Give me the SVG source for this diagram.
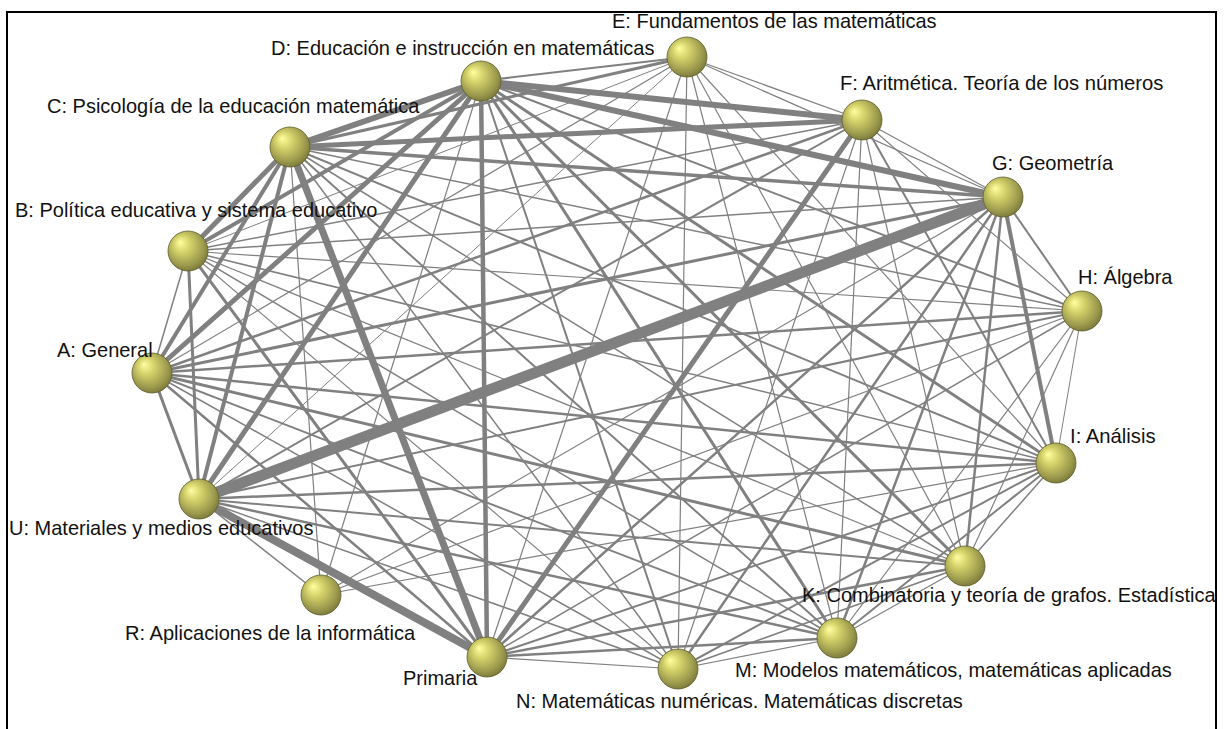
<svg xmlns="http://www.w3.org/2000/svg" width="1228" height="729" viewBox="0 0 1228 729">
<defs>
<radialGradient id="ball" cx="0.45" cy="0.42" r="0.6" fx="0.3" fy="0.28">
<stop offset="0" stop-color="#ffffa0"/>
<stop offset="0.35" stop-color="#d4d26a"/>
<stop offset="0.8" stop-color="#9a984c"/>
<stop offset="1" stop-color="#7a783a"/>
</radialGradient>
</defs>
<style>
.e line{stroke:#808080;fill:none}
.n circle{fill:url(#ball);stroke:#5f5e2c;stroke-width:0.8}
text{font-family:"Liberation Sans",Arial,sans-serif;font-size:21px;fill:#111}
text.s{font-size:20px}
</style>
<rect width="1228" height="729" fill="#fff"/>
<path d="M7,729 V12 H1216 V729" fill="none" stroke="#000" stroke-width="2"/>
<g id="connectors" class="e">
<line x1="152" y1="373" x2="188" y2="251" stroke-width="1.5"/>
<line x1="152" y1="373" x2="290" y2="147" stroke-width="4"/>
<line x1="152" y1="373" x2="481" y2="81" stroke-width="5"/>
<line x1="152" y1="373" x2="687" y2="57" stroke-width="1.2"/>
<line x1="152" y1="373" x2="862" y2="120" stroke-width="2.5"/>
<line x1="152" y1="373" x2="1003" y2="197" stroke-width="3"/>
<line x1="152" y1="373" x2="1082" y2="311" stroke-width="2.5"/>
<line x1="152" y1="373" x2="1056" y2="463" stroke-width="2.5"/>
<line x1="152" y1="373" x2="965" y2="566" stroke-width="3"/>
<line x1="152" y1="373" x2="837" y2="638" stroke-width="2"/>
<line x1="152" y1="373" x2="678" y2="669" stroke-width="1.5"/>
<line x1="152" y1="373" x2="199" y2="499" stroke-width="3"/>
<line x1="152" y1="373" x2="487" y2="657" stroke-width="2.5"/>
<line x1="188" y1="251" x2="290" y2="147" stroke-width="5"/>
<line x1="188" y1="251" x2="481" y2="81" stroke-width="4"/>
<line x1="188" y1="251" x2="687" y2="57" stroke-width="1"/>
<line x1="188" y1="251" x2="862" y2="120" stroke-width="1.5"/>
<line x1="188" y1="251" x2="1003" y2="197" stroke-width="1.5"/>
<line x1="188" y1="251" x2="1082" y2="311" stroke-width="1.2"/>
<line x1="188" y1="251" x2="1056" y2="463" stroke-width="1.5"/>
<line x1="188" y1="251" x2="965" y2="566" stroke-width="1.2"/>
<line x1="188" y1="251" x2="837" y2="638" stroke-width="1.5"/>
<line x1="188" y1="251" x2="678" y2="669" stroke-width="1.2"/>
<line x1="188" y1="251" x2="199" y2="499" stroke-width="3"/>
<line x1="188" y1="251" x2="487" y2="657" stroke-width="3"/>
<line x1="290" y1="147" x2="481" y2="81" stroke-width="6"/>
<line x1="290" y1="147" x2="687" y2="57" stroke-width="3"/>
<line x1="290" y1="147" x2="862" y2="120" stroke-width="5"/>
<line x1="290" y1="147" x2="1003" y2="197" stroke-width="3.5"/>
<line x1="290" y1="147" x2="1082" y2="311" stroke-width="1.5"/>
<line x1="290" y1="147" x2="1056" y2="463" stroke-width="2"/>
<line x1="290" y1="147" x2="965" y2="566" stroke-width="1.5"/>
<line x1="290" y1="147" x2="837" y2="638" stroke-width="2"/>
<line x1="290" y1="147" x2="678" y2="669" stroke-width="1.5"/>
<line x1="290" y1="147" x2="321" y2="595" stroke-width="1.2"/>
<line x1="290" y1="147" x2="199" y2="499" stroke-width="4"/>
<line x1="290" y1="147" x2="487" y2="657" stroke-width="7"/>
<line x1="481" y1="81" x2="687" y2="57" stroke-width="2"/>
<line x1="481" y1="81" x2="862" y2="120" stroke-width="6"/>
<line x1="481" y1="81" x2="1003" y2="197" stroke-width="6"/>
<line x1="481" y1="81" x2="1082" y2="311" stroke-width="2"/>
<line x1="481" y1="81" x2="1056" y2="463" stroke-width="3"/>
<line x1="481" y1="81" x2="965" y2="566" stroke-width="3"/>
<line x1="481" y1="81" x2="837" y2="638" stroke-width="3"/>
<line x1="481" y1="81" x2="678" y2="669" stroke-width="2"/>
<line x1="481" y1="81" x2="321" y2="595" stroke-width="1.2"/>
<line x1="481" y1="81" x2="199" y2="499" stroke-width="5"/>
<line x1="481" y1="81" x2="487" y2="657" stroke-width="4.5"/>
<line x1="687" y1="57" x2="862" y2="120" stroke-width="1.2"/>
<line x1="687" y1="57" x2="1003" y2="197" stroke-width="1.2"/>
<line x1="687" y1="57" x2="1056" y2="463" stroke-width="1.2"/>
<line x1="687" y1="57" x2="965" y2="566" stroke-width="1.2"/>
<line x1="687" y1="57" x2="837" y2="638" stroke-width="1.2"/>
<line x1="687" y1="57" x2="678" y2="669" stroke-width="1.2"/>
<line x1="687" y1="57" x2="199" y2="499" stroke-width="1"/>
<line x1="687" y1="57" x2="487" y2="657" stroke-width="1.2"/>
<line x1="862" y1="120" x2="1003" y2="197" stroke-width="1.2"/>
<line x1="862" y1="120" x2="1082" y2="311" stroke-width="1.2"/>
<line x1="862" y1="120" x2="1056" y2="463" stroke-width="2"/>
<line x1="862" y1="120" x2="965" y2="566" stroke-width="1.2"/>
<line x1="862" y1="120" x2="837" y2="638" stroke-width="1.2"/>
<line x1="862" y1="120" x2="678" y2="669" stroke-width="1.2"/>
<line x1="862" y1="120" x2="199" y2="499" stroke-width="2"/>
<line x1="862" y1="120" x2="487" y2="657" stroke-width="5"/>
<line x1="1003" y1="197" x2="1082" y2="311" stroke-width="2"/>
<line x1="1003" y1="197" x2="1056" y2="463" stroke-width="4"/>
<line x1="1003" y1="197" x2="965" y2="566" stroke-width="2.5"/>
<line x1="1003" y1="197" x2="837" y2="638" stroke-width="2.5"/>
<line x1="1003" y1="197" x2="678" y2="669" stroke-width="2.5"/>
<line x1="1003" y1="197" x2="321" y2="595" stroke-width="1.2"/>
<line x1="1003" y1="197" x2="199" y2="499" stroke-width="11"/>
<line x1="1003" y1="197" x2="487" y2="657" stroke-width="2.5"/>
<line x1="1082" y1="311" x2="1056" y2="463" stroke-width="1"/>
<line x1="1082" y1="311" x2="965" y2="566" stroke-width="1.2"/>
<line x1="1082" y1="311" x2="837" y2="638" stroke-width="1.2"/>
<line x1="1082" y1="311" x2="321" y2="595" stroke-width="1.2"/>
<line x1="1082" y1="311" x2="199" y2="499" stroke-width="2"/>
<line x1="1082" y1="311" x2="487" y2="657" stroke-width="1.5"/>
<line x1="1056" y1="463" x2="965" y2="566" stroke-width="1.5"/>
<line x1="1056" y1="463" x2="837" y2="638" stroke-width="2"/>
<line x1="1056" y1="463" x2="678" y2="669" stroke-width="2"/>
<line x1="1056" y1="463" x2="321" y2="595" stroke-width="1.2"/>
<line x1="1056" y1="463" x2="199" y2="499" stroke-width="2.5"/>
<line x1="1056" y1="463" x2="487" y2="657" stroke-width="2"/>
<line x1="965" y1="566" x2="837" y2="638" stroke-width="1.2"/>
<line x1="965" y1="566" x2="678" y2="669" stroke-width="1.5"/>
<line x1="965" y1="566" x2="199" y2="499" stroke-width="2"/>
<line x1="965" y1="566" x2="487" y2="657" stroke-width="2.5"/>
<line x1="837" y1="638" x2="678" y2="669" stroke-width="1.2"/>
<line x1="837" y1="638" x2="199" y2="499" stroke-width="2.5"/>
<line x1="837" y1="638" x2="487" y2="657" stroke-width="2.5"/>
<line x1="678" y1="669" x2="199" y2="499" stroke-width="1.5"/>
<line x1="678" y1="669" x2="487" y2="657" stroke-width="1.2"/>
<line x1="321" y1="595" x2="199" y2="499" stroke-width="1.5"/>
<line x1="199" y1="499" x2="487" y2="657" stroke-width="8"/>
</g>
<g id="node-A" class="n"><circle cx="152" cy="373" r="20"/><text x="57" y="357" textLength="95.6" lengthAdjust="spacingAndGlyphs">A: General</text></g>
<g id="node-B" class="n"><circle cx="188" cy="251" r="20"/><text x="15" y="217" textLength="362.4" lengthAdjust="spacingAndGlyphs">B: Política educativa y sistema educativo</text></g>
<g id="node-C" class="n"><circle cx="290" cy="147" r="20"/><text x="47" y="113" textLength="372.4" lengthAdjust="spacingAndGlyphs">C: Psicología de la educación matemática</text></g>
<g id="node-D" class="n"><circle cx="481" cy="81" r="20"/><text x="271" y="55" textLength="383.5" lengthAdjust="spacingAndGlyphs">D: Educación e instrucción en matemáticas</text></g>
<g id="node-E" class="n"><circle cx="687" cy="57" r="20"/><text x="612" y="28" textLength="324.6" lengthAdjust="spacingAndGlyphs">E: Fundamentos de las matemáticas</text></g>
<g id="node-F" class="n"><circle cx="862" cy="120" r="20"/><text x="840" y="90" textLength="323.4" lengthAdjust="spacingAndGlyphs">F: Aritmética. Teoría de los números</text></g>
<g id="node-G" class="n"><circle cx="1003" cy="197" r="20"/><text x="992" y="170" textLength="121.2" lengthAdjust="spacingAndGlyphs">G: Geometría</text></g>
<g id="node-H" class="n"><circle cx="1082" cy="311" r="20"/><text x="1078" y="284" textLength="94.5" lengthAdjust="spacingAndGlyphs">H: Álgebra</text></g>
<g id="node-I" class="n"><circle cx="1056" cy="463" r="20"/><text x="1070" y="443" textLength="85.6" lengthAdjust="spacingAndGlyphs">I: Análisis</text></g>
<g id="node-K" class="n"><circle cx="965" cy="566" r="20"/><text class="s" x="802" y="602">K: Combinatoria y teoría de grafos. Estadística</text></g>
<g id="node-M" class="n"><circle cx="837" cy="638" r="20"/><text x="735" y="677" textLength="436.8" lengthAdjust="spacingAndGlyphs">M: Modelos matemáticos, matemáticas aplicadas</text></g>
<g id="node-N" class="n"><circle cx="678" cy="669" r="20"/><text x="516" y="708" textLength="446.8" lengthAdjust="spacingAndGlyphs">N: Matemáticas numéricas. Matemáticas discretas</text></g>
<g id="node-R" class="n"><circle cx="321" cy="595" r="20"/><text x="125" y="640" textLength="290.1" lengthAdjust="spacingAndGlyphs">R: Aplicaciones de la informática</text></g>
<g id="node-U" class="n"><circle cx="199" cy="499" r="20"/><text x="9" y="535" textLength="304.5" lengthAdjust="spacingAndGlyphs">U: Materiales y medios educativos</text></g>
<g id="node-P" class="n"><circle cx="487" cy="657" r="20"/><text x="403" y="685" textLength="74.4" lengthAdjust="spacingAndGlyphs">Primaria</text></g>
</svg>
